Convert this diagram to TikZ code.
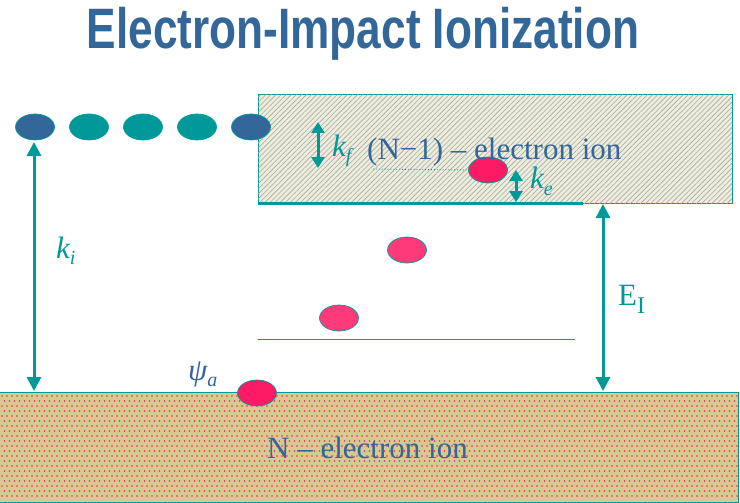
\documentclass[tikz,border=0pt]{standalone}
\usepackage{fontspec}
\setmainfont{Liberation Serif}
\newfontfamily\titlefont{Liberation Sans}
\usetikzlibrary{shapes.geometric,arrows.meta,patterns.meta}
\definecolor{teal}{HTML}{009999}
\definecolor{slate}{HTML}{336699}
\definecolor{redA}{HTML}{FF1A66}
\definecolor{redB}{HTML}{FF3A7A}
\definecolor{beige}{HTML}{EDEDDF}
\definecolor{hatchc}{HTML}{A8A89A}
\definecolor{khaki}{HTML}{D6CA90}
\definecolor{dotc}{HTML}{FF2266}
\tikzset{
  electron/.style={ellipse, inner sep=0pt, minimum width=39pt, minimum height=26pt, draw=teal, line width=0.7pt},
  dblarrow/.style={teal, line width=3pt, {Triangle[width=14pt,length=14pt]}-{Triangle[width=14pt,length=14pt]}},
  smallarrow/.style={teal, line width=3pt, {Triangle[width=13pt,length=11pt]}-{Triangle[width=13pt,length=11pt]}},
  lbl/.style={anchor=base west, inner sep=0pt, text=teal, font=\fontsize{31}{31}\selectfont\itshape},
  bodytext/.style={anchor=base west, inner sep=0pt, text=slate, font=\fontsize{31}{31}\selectfont},
}
\newcommand{\sbs}[2]{\raisebox{#1}{\fontsize{20}{20}\selectfont #2}}
\begin{document}
\begin{tikzpicture}[x=1pt,y=-1pt]
\useasboundingbox (0,0) rectangle (740,503);
% title
\node[anchor=base, inner sep=0pt, text=slate, font=\titlefont\bfseries\fontsize{57}{60}\selectfont] (title) at (363,49) {\scalebox{0.775}[1]{Electron-Impact Ionization}};
% upper box: (N-1)-electron ion
\node[draw=teal, line width=1pt, fill=beige, minimum width=474pt, minimum height=108pt, inner sep=0pt,
      postaction={pattern={Lines[angle=45,distance=3.6pt,line width=0.6pt]}, pattern color=hatchc}] (upper) at (495,149) {};
\draw[teal, line width=3pt] (upper.south west) -- ++(325,0) coordinate (thickend);
% lower box: N-electron ion
\node[fill=khaki, minimum width=738pt, minimum height=109pt, inner sep=0pt] (lower) at (369,447.5) {};
\foreach \y in {396,406,...,500} {\foreach \x in {2,7,...,737} {\fill[dotc] (\x,\y) circle[radius=0.8pt];}}
\foreach \y in {401,411,...,500} {\foreach \x in {4.5,9.5,...,737} {\fill[dotc] (\x,\y) circle[radius=0.8pt];}}
\draw[teal, line width=1pt] (lower.north west) rectangle (lower.south east);
% thin intermediate level
\coordinate (lvlL) at (258,339);
\coordinate (lvlR) at (575,339);
\draw[teal, line width=1pt] (lvlL) -- (lvlR);
% row of electrons
\node[electron, fill=slate] (e1) at (35,127) {};
\node[electron, fill=teal] (e2) at (89,127) {};
\node[electron, fill=teal] (e3) at (143,127) {};
\node[electron, fill=teal] (e4) at (197,127) {};
\node[electron, fill=slate] (e5) at (251,127) {};
% red electrons
\node[electron, fill=redA] (ek) at (488,170) {};
\node[electron, fill=redB] (em1) at (407,250) {};
\node[electron, fill=redB] (em2) at (339,318) {};
\node[electron, fill=redA] (ea) at (257,393) {};
% texts
\node[bodytext] (t1) at (367,159) {(N−1) – electron ion};
\node[bodytext] (t2) at (267,458) {N – electron ion};
% dotted guide
\coordinate (dotS) at (373,169);
\draw[teal, dotted, line width=0.9pt] (dotS) -- (ek.west);
% arrows
\coordinate (kiT) at (34,142);
\coordinate (kiB) at (34,391);
\draw[dblarrow] (kiT) -- (kiB);
\coordinate (eiT) at (603,204);
\coordinate (eiB) at (603,391);
\draw[dblarrow] (eiT) -- (eiB);
\coordinate (kfT) at (318,122);
\coordinate (kfB) at (318,168);
\draw[smallarrow] (kfT) -- (kfB);
\coordinate (keT) at (516,170);
\coordinate (keB) at (516,202);
\draw[smallarrow] (keT) -- (keB);
% labels
\node[lbl] (kf) at (332,157) {k\sbs{-6pt}{f}};
\node[lbl] (ke) at (530,189) {k\sbs{-6pt}{e}};
\node[lbl] (ki) at (56,258) {k\sbs{-6pt}{i}};
\node[lbl, font=\fontsize{31}{31}\selectfont] (EI) at (618,305) {E\sbs{-8pt}{\fontsize{24}{24}\selectfont I}};
\node[lbl, text=slate] (psi) at (188,380) {ψ\sbs{-6pt}{a}};
\end{tikzpicture}
\end{document}
